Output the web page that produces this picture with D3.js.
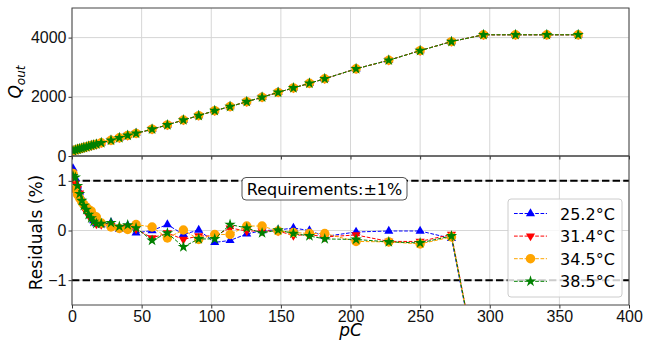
<!DOCTYPE html>
<html>
<head>
<meta charset="utf-8">
<script src="https://cdn.jsdelivr.net/npm/d3@7"></script>
<style>
body { margin: 0; background: #fff; }
svg { font-family: "DejaVu Sans", sans-serif; }
</style>
</head>
<body>
<div id="chart"></div>
<script>
// charge values (pC), shared by every series
var pC = [0.7, 2.4, 4, 5.5, 7, 8.5, 10.3, 12, 13.8, 15.5, 17.5, 21, 28, 34, 40, 46, 57.5, 68.5, 80, 91,
  102.5, 113.5, 125.5, 136.5, 148, 159, 170.5, 181.5, 204, 227.5, 250, 272.5, 295.5, 318.5, 341, 363.5];

// ADC output, identical within a pixel for all four temperatures
var qOut = [175, 200, 225, 245, 265, 285, 305, 330, 355, 375, 400, 445, 530, 615, 695, 765, 905, 1050, 1215, 1365,
  1530, 1670, 1835, 1985, 2150, 2300, 2455, 2610, 2945, 3235, 3560, 3865, 4095, 4095, 4095, 4095];

// residuals (%) per temperature
var res252 = [1.25, 1.05, 0.9, 0.78, 0.65, 0.55, 0.46, 0.38, 0.3, 0.2, 0.14, 0.12, 0.16, 0.03, 0.1, -0.05, 0.0, 0.12, -0.08, 0.01,
  -0.24, -0.2, -0.07, 0.0, 0.01, 0.05, 0.0, -0.12, -0.03, -0.01, -0.01, -0.16, -3.4, -10.4, -16, -21.5];
var res314 = [1.1, 0.95, 0.85, 0.75, 0.55, 0.46, 0.38, 0.3, 0.26, 0.2, 0.13, 0.12, 0.1, 0.05, 0.08, 0.03, -0.15, -0.05, -0.18, -0.11,
  -0.11, 0.05, -0.01, -0.01, -0.01, -0.1, -0.08, -0.13, -0.09, -0.22, -0.22, -0.08, -3.4, -10.4, -16, -21.5];
var res345 = [1.15, 0.83, 0.72, 0.65, 0.58, 0.52, 0.47, 0.42, 0.39, 0.3, 0.27, 0.15, 0.07, 0.04, 0.02, 0.12, 0.07, -0.15, 0.01, -0.18,
  -0.08, -0.08, 0.09, 0.09, -0.01, -0.04, -0.06, -0.06, -0.22, -0.23, -0.27, -0.13, -3.4, -10.4, -16, -21.5];
var res385 = [1.1, 1.07, 0.9, 0.74, 0.6, 0.5, 0.42, 0.32, 0.25, 0.18, 0.14, 0.14, 0.155, 0.08, 0.11, 0.05, -0.2, -0.05, -0.33, -0.17,
  -0.17, 0.12, 0.05, -0.05, 0.01, -0.06, -0.11, -0.17, -0.18, -0.23, -0.25, -0.11, -3.4, -10.4, -16, -21.5];

var labels = ["25.2°C", "31.4°C", "34.5°C", "38.5°C"];
var colors = ["blue", "red", "orange", "green"];
var residuals = [res252, res314, res345, res385];

var xTicks = [0, 50, 100, 150, 200, 250, 300, 350, 400];
var qTicks = [0, 2000, 4000];
var resTicks = [-1, 0, 1];

var W = 645, H = 343;
var left = 72, right = 629;
var topY0 = 8, topY1 = 156, botY0 = 156, botY1 = 305;

var svg = d3.select("#chart").append("svg").attr("width", W).attr("height", H);

var x = d3.scaleLinear().domain([0, 400]).range([left, right]);
var yQ = d3.scaleLinear().domain([0, 5000]).range([topY1, topY0]);
var yR = d3.scaleLinear().domain([-1.5, 1.5]).range([botY1, botY0]);

function markerPath(i) {
  if (i == 0) return d3.symbol().type(d3.symbolTriangle).size(36)();
  if (i == 1) return d3.symbol().type(d3.symbolTriangle).size(36)();
  if (i == 2) return d3.symbol().type(d3.symbolCircle).size(70)();
  return d3.symbol().type(d3.symbolStar).size(40)();
}
function markerTransform(i, px, py) {
  var t = "translate(" + px + "," + py + ")";
  if (i == 1) t += " rotate(180)";
  return t;
}

svg.append("clipPath").attr("id", "clipTop").append("rect")
  .attr("x", left).attr("y", topY0).attr("width", right - left).attr("height", topY1 - topY0);
svg.append("clipPath").attr("id", "clipBot").append("rect")
  .attr("x", left).attr("y", botY0).attr("width", right - left).attr("height", botY1 - botY0);

// grids
function grid(y0, y1, yScale, ticks) {
  var g = svg.append("g");
  g.selectAll(".gx").data(xTicks).enter().append("line")
    .attr("x1", d => x(d)).attr("x2", d => x(d)).attr("y1", y0).attr("y2", y1)
    .attr("stroke", "#d6d6d6").attr("stroke-width", 1);
  g.selectAll(".gy").data(ticks).enter().append("line")
    .attr("x1", left).attr("x2", right).attr("y1", d => yScale(d)).attr("y2", d => yScale(d))
    .attr("stroke", "#d6d6d6").attr("stroke-width", 1);
}
grid(topY0, topY1, yQ, qTicks);
grid(botY0, botY1, yR, resTicks);

// requirement lines
svg.append("g").selectAll("line").data([1, -1]).enter().append("line")
  .attr("x1", left).attr("x2", right).attr("y1", d => yR(d)).attr("y2", d => yR(d))
  .attr("stroke", "black").attr("stroke-width", 2).attr("stroke-dasharray", "7.4,3.2");

// series
var gTop = svg.append("g").attr("clip-path", "url(#clipTop)");
var gBot = svg.append("g").attr("clip-path", "url(#clipBot)");

residuals.forEach(function (r, i) {
  var lineQ = d3.line().x((d, k) => x(pC[k])).y(d => yQ(d));
  gTop.append("path").attr("d", lineQ(qOut)).attr("fill", "none")
    .attr("stroke", colors[i]).attr("stroke-width", 1).attr("stroke-dasharray", "3.7,1.6");
  gTop.selectAll(".m" + i).data(qOut).enter().append("path")
    .attr("d", markerPath(i)).attr("fill", colors[i])
    .attr("transform", (d, k) => markerTransform(i, x(pC[k]), yQ(d)));

  var lineR = d3.line().x((d, k) => x(pC[k])).y(d => yR(d));
  gBot.append("path").attr("d", lineR(r)).attr("fill", "none")
    .attr("stroke", colors[i]).attr("stroke-width", 1).attr("stroke-dasharray", "3.7,1.6");
  gBot.selectAll(".m" + i).data(r).enter().append("path")
    .attr("d", markerPath(i)).attr("fill", colors[i])
    .attr("transform", (d, k) => markerTransform(i, x(pC[k]), yR(d)));
});

// axes
var axT = svg.append("g").attr("transform", "translate(" + left + ",0)")
  .call(d3.axisLeft(yQ).tickValues(qTicks).tickSize(3.5).tickPadding(2).tickFormat(d3.format("d")));
var axB = svg.append("g").attr("transform", "translate(" + left + ",0)")
  .call(d3.axisLeft(yR).tickValues(resTicks).tickSize(3.5).tickPadding(2).tickFormat(d => d < 0 ? "\u2212" + Math.abs(d) : String(d)));
var axX = svg.append("g").attr("transform", "translate(0," + botY1 + ")")
  .call(d3.axisBottom(x).tickValues(xTicks).tickSize(3.5).tickPadding(2).tickFormat(d3.format("d")));
var axXt = svg.append("g").attr("transform", "translate(0," + topY1 + ")")
  .call(d3.axisBottom(x).tickValues(xTicks).tickSize(3.5).tickFormat(""));
[axT, axB, axX, axXt].forEach(function (a) {
  a.select(".domain").remove();
  a.selectAll("line").attr("stroke", "#333");
  a.selectAll("text").attr("font-size", 16).attr("fill", "#111");
});

// frames
[[topY0, topY1], [botY0, botY1]].forEach(function (p) {
  svg.append("rect").attr("x", left).attr("y", p[0]).attr("width", right - left).attr("height", p[1] - p[0])
    .attr("fill", "none").attr("stroke", "#444").attr("stroke-width", 1);
});

// axis labels
var ql = svg.append("text").attr("transform", "translate(21," + ((topY0 + topY1) / 2) + ") rotate(-90)")
  .attr("text-anchor", "middle").attr("font-size", 17).attr("font-style", "italic");
ql.append("tspan").text("Q");
ql.append("tspan").text("out").attr("font-size", 12).attr("dy", 4);

svg.append("text").attr("transform", "translate(42," + ((botY0 + botY1) / 2 + 2) + ") rotate(-90)")
  .attr("text-anchor", "middle").attr("font-size", 17).text("Residuals (%)");

svg.append("text").attr("x", (left + right) / 2).attr("y", 336).attr("text-anchor", "middle")
  .attr("font-size", 17).attr("font-style", "italic").text("pC");

// requirements box
var req = svg.append("g");
req.append("rect").attr("x", 242).attr("y", 177.5).attr("width", 165).attr("height", 22.5)
  .attr("rx", 4).attr("fill", "white").attr("stroke", "#555").attr("stroke-width", 1);
req.append("text").attr("x", 324.5).attr("y", 194.5).attr("text-anchor", "middle")
  .attr("font-size", 16).text("Requirements:\u00b11%");

// legend
var lg = svg.append("g");
lg.append("rect").attr("x", 508).attr("y", 199).attr("width", 114).attr("height", 98).attr("rx", 3)
  .attr("fill", "white").attr("fill-opacity", 0.8).attr("stroke", "#ccc");
labels.forEach(function (l, i) {
  var yy = 213.5 + i * 22.6;
  lg.append("line").attr("x1", 514).attr("x2", 547).attr("y1", yy).attr("y2", yy)
    .attr("stroke", colors[i]).attr("stroke-width", 1).attr("stroke-dasharray", "3.7,1.6");
  lg.append("path").attr("d", markerPath(i)).attr("fill", colors[i])
    .attr("transform", markerTransform(i, 530.5, yy));
  lg.append("text").attr("x", 560).attr("y", yy + 6).attr("font-size", 16).text(l);
});
</script>
</body>
</html>
